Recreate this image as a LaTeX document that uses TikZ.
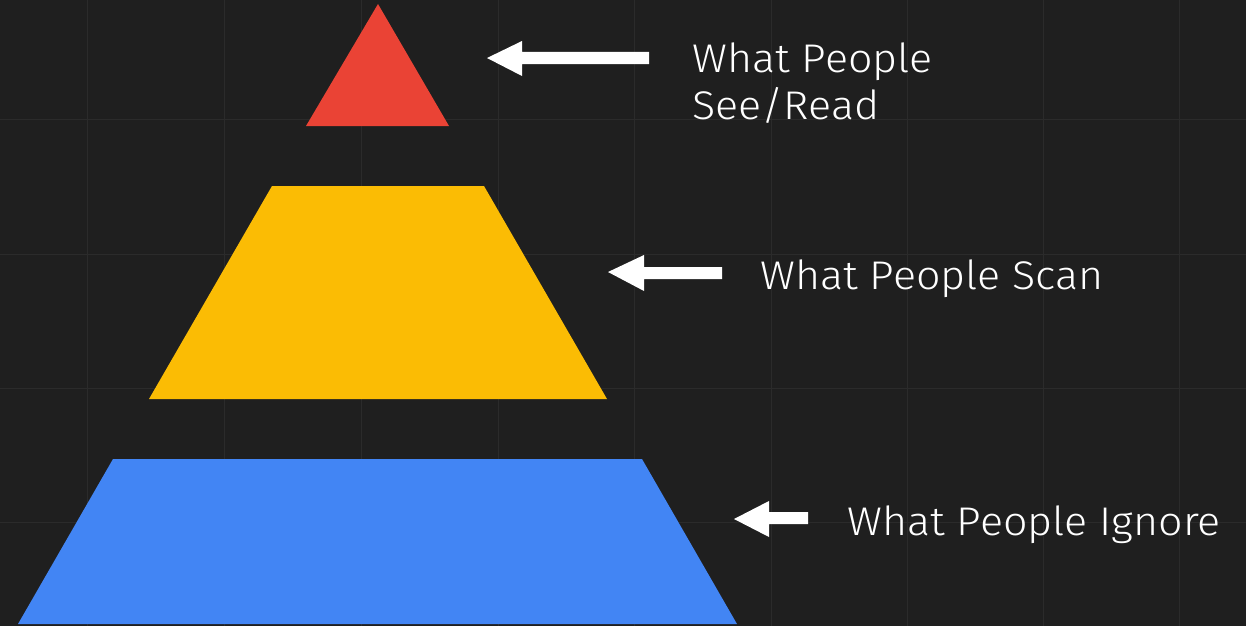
\documentclass[tikz,border=0pt]{standalone}
\usepackage{graphicx}
\usepackage{fontspec}
\setmainfont{Fira Sans}[UprightFont=* Light]
\newcommand\wideline[1]{\scalebox{1.075}[1]{#1}}
\definecolor{bg}{HTML}{1F1F1F}
\definecolor{gridc}{HTML}{2B2B2B}
\definecolor{gred}{HTML}{EA4335}
\definecolor{gyellow}{HTML}{FBBC04}
\definecolor{gblue}{HTML}{4285F4}
\tikzset{
  lbl/.style={anchor=base west, inner sep=0pt, text=white, font=\fontsize{40}{47}\selectfont, align=left},
  arrowshape/.style={fill=white, draw=none},
  gridline/.style={draw=gridc, line width=1pt}
}
\begin{document}
\begin{tikzpicture}[x=1pt,y=-1pt]
\useasboundingbox (0,0) rectangle (1246,626);
\fill[bg] (0,0) rectangle (1246,626);
% grid
\foreach \gx in {87,224,361,498,634,771,907,1043,1179}
  \draw[gridline] (\gx,0) -- (\gx,626);
\foreach \gy in {119,254,388,522}
  \draw[gridline] (0,\gy) -- (1246,\gy);
% shapes
\fill[gred] (378,4) -- (449,126) -- (306,126) -- cycle;
\fill[gyellow] (272,186) -- (484,186) -- (607,399) -- (149,399) -- cycle;
\fill[gblue] (113,459) -- (642,459) -- (737,624) -- (18,624) -- cycle;
% arrows
\fill[arrowshape] (487,58) -- (522,41) -- (522,52) -- (649,52) -- (649,64) -- (522,64) -- (522,76) -- cycle;
\fill[arrowshape] (608,272) -- (644,255) -- (644,267) -- (722,267) -- (722,279) -- (644,279) -- (644,291) -- cycle;
\fill[arrowshape] (734,519) -- (769,501) -- (769,512) -- (808,512) -- (808,524) -- (769,524) -- (769,537) -- cycle;
% labels
\node[lbl] (t1) at (692,119) {\wideline{What People}\\\wideline{See/Read}};
\node[lbl] (t2) at (760,289) {\wideline{What People Scan}};
\node[lbl] (t3) at (847,535) {\wideline{What People Ignore}};
\end{tikzpicture}
\end{document}
